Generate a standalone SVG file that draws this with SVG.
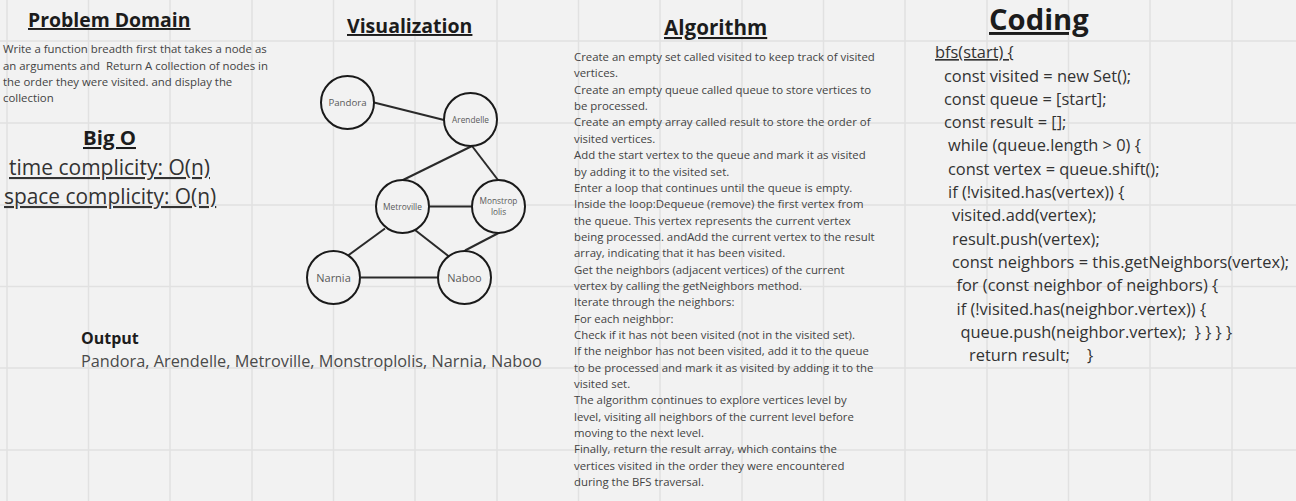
<svg xmlns="http://www.w3.org/2000/svg" width="1296" height="501" viewBox="0 0 1296 501">
  <style>
    text { font-family: "Open Sans", "Liberation Sans", sans-serif; }
    .grid line { stroke: #e1e1e1; stroke-width: 1.5; }
    .head { font-weight: 700; fill: #1c1c1c; text-decoration: underline; }
    .body { font-size: 11.4px; fill: #434343; }
    .code { font-size: 16.4px; fill: #333333; }
    .node circle { fill: #f2f2f2; stroke: #1a1a1a; stroke-width: 2; }
    .node text { text-anchor: middle; fill: #5a5a5a; }
    .edges line { stroke: #2a2a2a; stroke-width: 2; }
  </style>

  <rect width="1296" height="501" fill="#f2f2f2"/>

  <!-- background grid -->
  <g class="grid">
    <line x1="7" y1="0" x2="7" y2="501"/>
    <line x1="88.5" y1="0" x2="88.5" y2="501"/>
    <line x1="170" y1="0" x2="170" y2="501"/>
    <line x1="252" y1="0" x2="252" y2="501"/>
    <line x1="333.5" y1="0" x2="333.5" y2="501"/>
    <line x1="415" y1="0" x2="415" y2="501"/>
    <line x1="497" y1="0" x2="497" y2="501"/>
    <line x1="578.5" y1="0" x2="578.5" y2="501"/>
    <line x1="660" y1="0" x2="660" y2="501"/>
    <line x1="742" y1="0" x2="742" y2="501"/>
    <line x1="823.5" y1="0" x2="823.5" y2="501"/>
    <line x1="905" y1="0" x2="905" y2="501"/>
    <line x1="987" y1="0" x2="987" y2="501"/>
    <line x1="1068.5" y1="0" x2="1068.5" y2="501"/>
    <line x1="1150" y1="0" x2="1150" y2="501"/>
    <line x1="1232" y1="0" x2="1232" y2="501"/>
    <line x1="0" y1="41" x2="1296" y2="41"/>
    <line x1="0" y1="123" x2="1296" y2="123"/>
    <line x1="0" y1="205" x2="1296" y2="205"/>
    <line x1="0" y1="286.5" x2="1296" y2="286.5"/>
    <line x1="0" y1="368" x2="1296" y2="368"/>
    <line x1="0" y1="450" x2="1296" y2="450"/>
  </g>

  <!-- Problem domain column -->
  <g id="problem-domain">
    <text class="head" x="28" y="27" font-size="19.4">Problem Domain</text>
    <text class="body" x="3" y="53">Write a function breadth first that takes a node as</text>
    <text class="body" x="3" y="69.5" xml:space="preserve">an arguments and  Return A collection of nodes in</text>
    <text class="body" x="3" y="86">the order they were visited. and display the</text>
    <text class="body" x="3" y="102">collection</text>
  </g>

  <g id="big-o">
    <text class="head" x="83" y="145" font-size="20.4">Big O</text>
    <text x="9" y="175" font-size="21" fill="#333" text-decoration="underline">time complicity: O(n)</text>
    <text x="4" y="204" font-size="20.9" fill="#333" text-decoration="underline">space complicity: O(n)</text>
  </g>

  <g id="output">
    <text x="81" y="344" font-size="16" font-weight="700" fill="#1c1c1c">Output</text>
    <text x="81" y="367" font-size="16.3" fill="#4a4a4a">Pandora, Arendelle, Metroville, Monstroplolis, Narnia, Naboo</text>
  </g>

  <!-- Visualization: graph -->
  <text class="head" x="347" y="33" font-size="19.5">Visualization</text>

  <g class="edges" id="connectors">
    <line x1="374" y1="102.5" x2="444" y2="120"/>
    <line x1="472" y1="146" x2="403" y2="180"/>
    <line x1="472" y1="146" x2="498" y2="180"/>
    <line x1="429.5" y1="206.5" x2="471.5" y2="206.5" stroke-width="2.8"/>
    <line x1="385" y1="228.5" x2="348" y2="255.5"/>
    <line x1="415" y1="230" x2="449" y2="256.5"/>
    <line x1="499.5" y1="232.5" x2="465" y2="250.5"/>
    <line x1="361" y1="277.5" x2="438" y2="277.5" stroke-width="2.5"/>
  </g>

  <g class="node" id="node-pandora">
    <circle cx="347.5" cy="102.5" r="26.5"/>
    <text x="347.5" y="106" font-size="9.7" fill="#333">Pandora</text>
  </g>
  <g class="node" id="node-arendelle">
    <circle cx="470.5" cy="119.5" r="26.5"/>
    <text x="470.5" y="122.5" font-size="8.3">Arendelle</text>
  </g>
  <g class="node" id="node-metroville">
    <circle cx="402.5" cy="206.5" r="26.5"/>
    <text x="402.5" y="209.5" font-size="8.4">Metroville</text>
  </g>
  <g class="node" id="node-monstroplolis">
    <circle cx="498.5" cy="206.5" r="26.5"/>
    <text x="498.5" y="204" font-size="8.3">Monstrop</text>
    <text x="498.5" y="215" font-size="8.3">lolis</text>
  </g>
  <g class="node" id="node-narnia">
    <circle cx="333.5" cy="277.5" r="26.5"/>
    <text x="333.5" y="281.5" font-size="11">Narnia</text>
  </g>
  <g class="node" id="node-naboo">
    <circle cx="464.5" cy="277.5" r="26.5"/>
    <text x="464.5" y="281.5" font-size="11">Naboo</text>
  </g>

  <!-- Algorithm column -->
  <g id="algorithm">
    <text class="head" x="664" y="35" font-size="20.6">Algorithm</text>
    <text class="body" x="574">
      <tspan x="574" y="61">Create an empty set called visited to keep track of visited</tspan>
      <tspan x="574" y="77.4">vertices.</tspan>
      <tspan x="574" y="93.7">Create an empty queue called queue to store vertices to</tspan>
      <tspan x="574" y="110">be processed.</tspan>
      <tspan x="574" y="126.4">Create an empty array called result to store the order of</tspan>
      <tspan x="574" y="142.8">visited vertices.</tspan>
      <tspan x="574" y="159.1">Add the start vertex to the queue and mark it as visited</tspan>
      <tspan x="574" y="175.5">by adding it to the visited set.</tspan>
      <tspan x="574" y="191.8">Enter a loop that continues until the queue is empty.</tspan>
      <tspan x="574" y="208.2">Inside the loop:Dequeue (remove) the first vertex from</tspan>
      <tspan x="574" y="224.5">the queue. This vertex represents the current vertex</tspan>
      <tspan x="574" y="240.9">being processed. andAdd the current vertex to the result</tspan>
      <tspan x="574" y="257.2">array, indicating that it has been visited.</tspan>
      <tspan x="574" y="273.6">Get the neighbors (adjacent vertices) of the current</tspan>
      <tspan x="574" y="289.9">vertex by calling the getNeighbors method.</tspan>
      <tspan x="574" y="306.3">Iterate through the neighbors:</tspan>
      <tspan x="574" y="322.6">For each neighbor:</tspan>
      <tspan x="574" y="339">Check if it has not been visited (not in the visited set).</tspan>
      <tspan x="574" y="355.3">If the neighbor has not been visited, add it to the queue</tspan>
      <tspan x="574" y="371.7">to be processed and mark it as visited by adding it to the</tspan>
      <tspan x="574" y="388">visited set.</tspan>
      <tspan x="574" y="404.4">The algorithm continues to explore vertices level by</tspan>
      <tspan x="574" y="420.7">level, visiting all neighbors of the current level before</tspan>
      <tspan x="574" y="437.1">moving to the next level.</tspan>
      <tspan x="574" y="453.4">Finally, return the result array, which contains the</tspan>
      <tspan x="574" y="469.8">vertices visited in the order they were encountered</tspan>
      <tspan x="574" y="486.1">during the BFS traversal.</tspan>
    </text>
  </g>

  <!-- Coding column -->
  <g id="coding">
    <text class="head" x="989" y="30" font-size="29.2">Coding</text>
    <text class="code" x="935" y="58" text-decoration="underline">bfs(start) {</text>
    <text class="code" xml:space="preserve">
      <tspan x="944" y="81.5">const visited = new Set();</tspan>
      <tspan x="944" y="104.8">const queue = [start];</tspan>
      <tspan x="944" y="128.1">const result = [];</tspan>
      <tspan x="948" y="151.4">while (queue.length &gt; 0) {</tspan>
      <tspan x="948" y="174.7">const vertex = queue.shift();</tspan>
      <tspan x="948" y="198">if (!visited.has(vertex)) {</tspan>
      <tspan x="952" y="221.3">visited.add(vertex);</tspan>
      <tspan x="952" y="244.6">result.push(vertex);</tspan>
      <tspan x="952" y="267.9">const neighbors = this.getNeighbors(vertex);</tspan>
      <tspan x="956.5" y="291.2">for (const neighbor of neighbors) {</tspan>
      <tspan x="956.5" y="314.5">if (!visited.has(neighbor.vertex)) {</tspan>
      <tspan x="960.5" y="337.8">queue.push(neighbor.vertex);  } } } }</tspan>
      <tspan x="969" y="361.1">return result;    }</tspan>
    </text>
  </g>
</svg>
